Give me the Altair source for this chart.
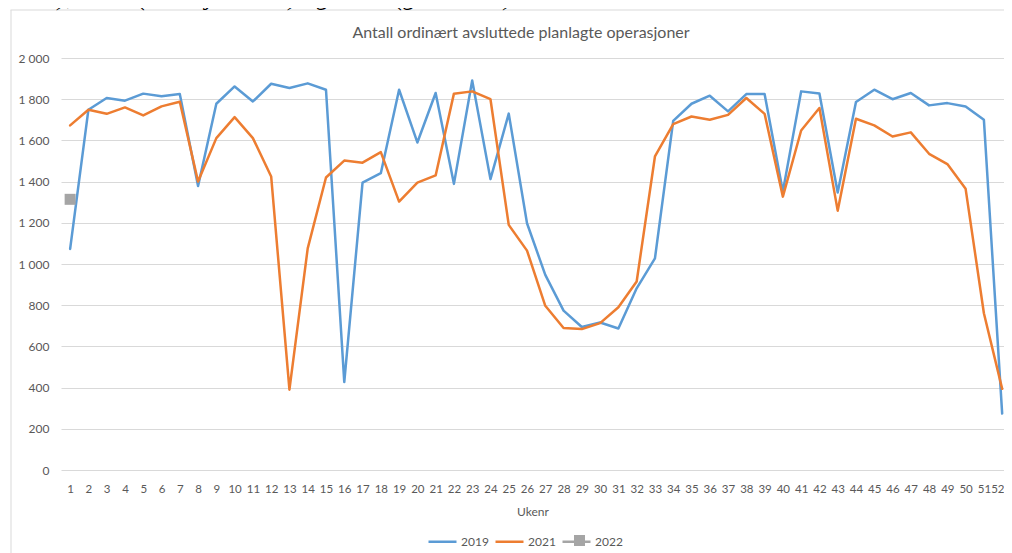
import altair as alt
import pandas as pd

weeks = list(range(1, 53))
v2019 = [1073, 1749, 1806, 1793, 1827, 1814, 1825, 1379, 1778, 1862,
         1789, 1875, 1854, 1877, 1846, 427, 1395, 1441, 1846, 1590,
         1830, 1389, 1891, 1412, 1730, 1198, 947, 774, 694, 716,
         687, 882, 1027, 1695, 1778, 1817, 1741, 1825, 1825, 1352,
         1838, 1828, 1347, 1786, 1846, 1800, 1830, 1770, 1781, 1765,
         1700, 274]
v2021 = [1673, 1749, 1729, 1760, 1721, 1765, 1788, 1400, 1611, 1713,
         1611, 1425, 390, 1076, 1420, 1502, 1492, 1543, 1303, 1395,
         1430, 1827, 1838, 1800, 1190, 1065, 797, 689, 684, 713,
         790, 915, 1522, 1679, 1716, 1700, 1724, 1806, 1729, 1327,
         1648, 1757, 1259, 1705, 1673, 1619, 1639, 1535, 1485, 1365,
         761, 394]
weeks2022 = [1]
v2022 = [1314]

series = ["2019", "2021", "2022"]
colors = ["#5B9BD5", "#ED7D31", "#A5A5A5"]
y_ticks = list(range(0, 2001, 200))

title_text = "Antall ordinært avsluttede planlagte operasjoner"
header_text = "kurve), 2021 (oransje kurve) og 2022 (grå kurve)."

rows = []
for w, v in zip(weeks, v2019):
    rows.append({"Ukenr": w, "verdi": v, "år": "2019"})
for w, v in zip(weeks, v2021):
    rows.append({"Ukenr": w, "verdi": v, "år": "2021"})
for w, v in zip(weeks2022, v2022):
    rows.append({"Ukenr": w, "verdi": v, "år": "2022"})
df = pd.DataFrame(rows)
df22 = df[df["år"] == "2022"]

FONT = "Lato"
GRAY = "#595959"
BORDER = "#D9D9D9"

x_enc = alt.X("Ukenr:Q",
              scale=alt.Scale(domain=[0.5, 52.1], nice=False, zero=False),
              axis=alt.Axis(values=weeks, format="d", ticks=False, domain=False, grid=False,
                            labelFont=FONT, labelFontSize=11.5, labelColor=GRAY,
                            labelPadding=13, labelOverlap=False, labelFlush=4,
                            labelFlushOffset=1.8,
                            title="Ukenr", titleFont=FONT, titleFontSize=12,
                            titleFontWeight="normal", titleColor=GRAY, titlePadding=12))
y_enc = alt.Y("verdi:Q",
              scale=alt.Scale(domain=[0, 2000], nice=False),
              axis=alt.Axis(values=y_ticks, ticks=False, domain=False, grid=True,
                            gridColor=BORDER, gridWidth=1,
                            labelExpr="replace(format(datum.value, ','), ',', ' ')",
                            labelFont=FONT, labelFontSize=12, labelColor=GRAY,
                            labelPadding=12, title=None))

lines = alt.Chart(df).mark_line(strokeWidth=2.5, strokeJoin="round", strokeCap="round").encode(
    x=x_enc, y=y_enc,
    color=alt.Color("år:N", scale=alt.Scale(domain=series, range=colors),
                    legend=alt.Legend(
                        title=None, orient="none", legendX=366, legendY=468,
                        direction="horizontal", symbolType="stroke", symbolSize=784,
                        symbolStrokeWidth=2.5, labelFont=FONT, labelFontSize=12,
                        labelColor=GRAY, labelOffset=3, columnPadding=1, padding=0)),
)

points = alt.Chart(df22).mark_point(filled=True, size=121, opacity=1, color="#A5A5A5").encode(
    x=x_enc, y=y_enc,
    shape=alt.Shape("år:N", scale=alt.Scale(domain=["2022"], range=["square"]),
                    legend=alt.Legend(
                        title=None, orient="none", legendX=513, legendY=477,
                        values=["2022"], labelExpr="''", symbolSize=121,
                        symbolFillColor="#A5A5A5", symbolStrokeColor="#A5A5A5",
                        symbolStrokeWidth=0, symbolOpacity=1, labelFontSize=1,
                        labelOffset=0, padding=0)),
)

dummy = pd.DataFrame({"t": [header_text], "h": [title_text]})
border_left = alt.Chart(dummy).mark_rect(fill=BORDER, strokeWidth=0).encode(
    x=alt.value(-50.5), x2=alt.value(-49.5), y=alt.value(-48), y2=alt.value(900)
)
border_top = alt.Chart(dummy).mark_rect(fill=BORDER, strokeWidth=0).encode(
    x=alt.value(-50.5), x2=alt.value(1500), y=alt.value(-48.5), y2=alt.value(-47.5)
)
header = alt.Chart(dummy).mark_text(
    font="Liberation Serif", fontStyle="italic", fontSize=26, align="left",
    baseline="alphabetic", color="#000000"
).encode(text="t:N", x=alt.value(-61), y=alt.value(-53))
title = alt.Chart(dummy).mark_text(
    font=FONT, fontSize=16, align="center", baseline="middle", color=GRAY
).encode(text="h:N", x=alt.value(460), y=alt.value(-25))

chart = alt.layer(border_left, border_top, header, title, lines, points).properties(
    width=943, height=412,
    autosize=alt.AutoSizeParams(type="none"),
    padding={"left": 53, "top": 50, "right": 0, "bottom": 83},
).configure_view(stroke=None).resolve_legend(color="independent", shape="independent")

chart.save("out.html", embed_options={"renderer": "svg", "actions": False})
